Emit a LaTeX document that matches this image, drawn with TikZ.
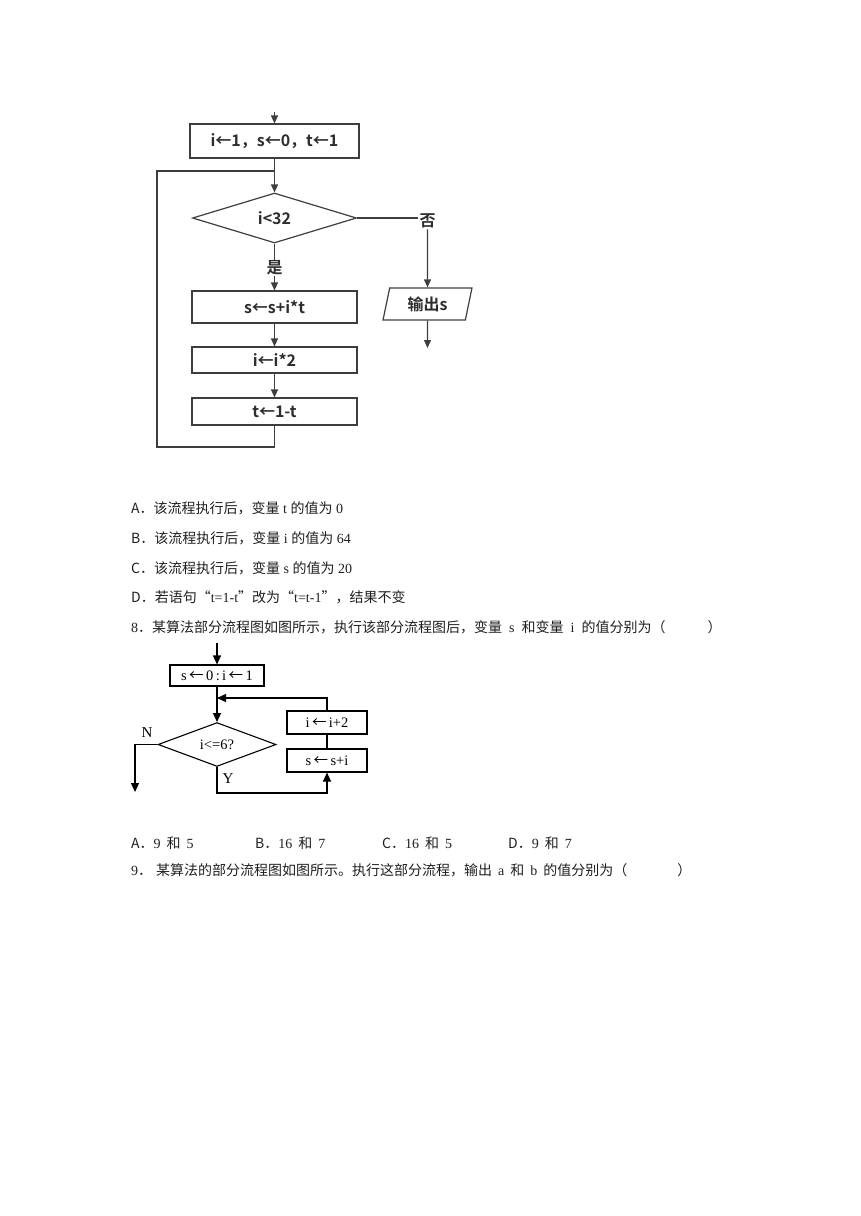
\documentclass[tikz,border=0pt]{standalone}
\usepackage{fontspec}
\setmainfont{Liberation Serif}
\newfontfamily\cjk{Noto Sans CJK SC}
\newfontfamily\cjkbf{Noto Sans CJK SC Bold}
\usetikzlibrary{shapes.geometric,arrows.meta}

\definecolor{linegray}{RGB}{62,62,62}
\definecolor{txtgray}{RGB}{45,45,45}

\newcommand\zh[1]{{\cjk #1}}

\tikzset{
  box1/.style={draw=linegray, line width=1.2pt, rectangle, inner sep=0pt,
    text=txtgray, font={\cjkbf\fontsize{16}{18}\selectfont}},
  dia1/.style={box1, diamond},
  io1/.style={box1, trapezium, trapezium left angle=77,
    trapezium right angle=103, trapezium stretches=true},
  lab1/.style={inner sep=1pt, text=txtgray, font={\cjkbf\fontsize{16}{18}\selectfont}},
  arr1/.style={draw=linegray, line width=1.2pt, -{Triangle[length=8pt,width=7pt]}},
  ln1/.style={draw=linegray, line width=1.2pt},
  box2/.style={draw, line width=1.1pt, rectangle, inner sep=0pt,
    font=\fontsize{14.5}{16}\selectfont},
  dia2/.style={box2, diamond},
  lab2/.style={inner sep=0pt, font=\fontsize{15}{17}\selectfont},
  arr2/.style={line width=1.1pt, -{Triangle[length=9pt,width=8pt]}},
  qline/.style={anchor=west, inner sep=0pt, text=black!88,
    font=\fontsize{14}{17}\selectfont}
}

\begin{document}
\begin{tikzpicture}[x=1pt,y=-1pt]
\useasboundingbox (0,0) rectangle (860,1216);

\coordinate (in1) at (274.5,112);
\node[box1, minimum width=169pt, minimum height=34pt] (init) at (274.5,141) {i←1，s←0，t←1};
\coordinate (jn) at (274.5,171);
\node[dia1, minimum width=164pt, minimum height=50pt] (cond) at (274.5,218) {i<32};
\node[lab1] (yes) at (274.5,268) {是};
\node[lab1] (no) at (427.5,221) {否};
\node[io1, minimum width=89pt, minimum height=32pt] (out) at (427.5,304) {输出s};
\coordinate (end1) at (427.5,348);
\node[box1, minimum width=165pt, minimum height=32pt] (s1) at (274.5,307) {s←s+i*t};
\node[box1, minimum width=165pt, minimum height=26pt] (s2) at (274.5,360) {i←i*2};
\node[box1, minimum width=165pt, minimum height=27pt] (s3) at (274.5,411.5) {t←1-t};
\coordinate (lp1) at (274.5,447);
\coordinate (lp2) at (157,447);
\coordinate (lp3) at (157,171);

\draw[arr1] (in1) -- (init.north);
\draw[arr1] (init.south) -- (cond.north);
\draw[ln1] (s3.south) -- (lp1) -- (lp2) -- (lp3) -- (jn);
\draw[ln1] (cond.south) -- (yes.north);
\draw[arr1] (yes.south) -- (s1.north);
\draw[arr1] (s1.south) -- (s2.north);
\draw[arr1] (s2.south) -- (s3.north);
\draw[ln1] (cond.east) -- (cond.east -| no.west);
\draw[arr1] (no.south) -- (out.north);
\draw[arr1] (out.south) -- (end1);

\node[qline] (optA) at (131,508) {\zh{A．该流程执行后，变量} t \zh{的值为} 0};
\node[qline] (optB) at (131,538) {\zh{B．该流程执行后，变量} i \zh{的值为} 64};
\node[qline] (optC) at (131,568) {\zh{C．该流程执行后，变量} s \zh{的值为} 20};
\node[qline] (optD) at (131,597) {\zh{D．若语句“}t=1-t\zh{”改为“}t=t-1\zh{”，结果不变}};
\node[qline] (q8) at (131,627) {8\zh{．某算法部分流程图如图所示，执行该部分流程图后，变量}\hspace{7pt}s\hspace{7pt}\zh{和变量}\hspace{7pt}i\hspace{7pt}\zh{的值分别为（\hspace{42pt}）}};

\coordinate (in2) at (217,643);
\node[box2, minimum width=94pt, minimum height=21pt] (init2) at (217,675.5) {s\,\zh{←}\,0\,:\,i\,\zh{←}\,1};
\coordinate (mg) at (217,698);
\node[dia2, minimum width=118pt, minimum height=42pt] (cond2) at (217,744.5) {i<=6?};
\node[box2, minimum width=80pt, minimum height=23pt] (upd) at (327,722.5) {i\,\zh{←}\,i+2};
\node[box2, minimum width=80pt, minimum height=23pt] (acc) at (327,760.5) {s\,\zh{←}\,s+i};
\node[lab2] (nlab) at (147,733) {N};
\node[lab2] (ylab) at (228,779) {Y};
\coordinate (nend) at (135,792);
\coordinate (yb) at (327,793);

\draw[arr2] (in2) -- (init2.north);
\draw[arr2] (init2.south) -- (cond2.north);
\draw[arr2] (upd.north) |- (mg);
\draw[line width=1.1pt] (upd.south) -- (acc.north);
\draw[arr2] (cond2.west) -| (nend);
\draw[arr2] (cond2.south) |- (yb) -- (acc.south);

\node[qline] (a8) at (131,843) {\zh{A．}9\hspace{6pt}\zh{和}\hspace{6pt}5};
\node[qline] (b8) at (255,843) {\zh{B．}16\hspace{6pt}\zh{和}\hspace{6pt}7};
\node[qline] (c8) at (382,843) {\zh{C．}16\hspace{6pt}\zh{和}\hspace{6pt}5};
\node[qline] (d8) at (508,843) {\zh{D．}9\hspace{6pt}\zh{和}\hspace{6pt}7};
\node[qline] (q9) at (131,870) {9\zh{．\hspace{4pt}某算法的部分流程图如图所示。执行这部分流程，输出}\hspace{6pt}a\hspace{6pt}\zh{和}\hspace{6pt}b\hspace{6pt}\zh{的值分别为（\hspace{50pt}）}};
\end{tikzpicture}
\end{document}
